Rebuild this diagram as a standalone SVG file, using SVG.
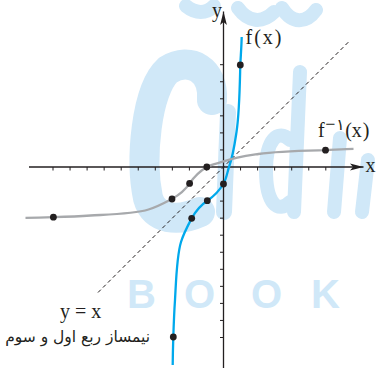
<svg xmlns="http://www.w3.org/2000/svg" width="376" height="368" viewBox="0 0 376 368">
<style>
.wm{fill:none;stroke:#d0e8f8;stroke-linecap:round;stroke-linejoin:round}
.wmt{fill:#d0e8f8;font-family:"Liberation Sans",Arial,sans-serif;font-size:40px;font-weight:bold}
.axis{stroke:#231f20;stroke-width:1.3;fill:none}
.tick{stroke:#231f20;stroke-width:1;fill:none}
.dash{stroke:#231f20;stroke-width:1;stroke-dasharray:4 3;fill:none}
.fcurve{stroke:#00a9ec;stroke-width:2.3;fill:none}
.gcurve{stroke:#a7a9ac;stroke-width:2.3;fill:none}
.dot{fill:#231f20}
.lbl{font-family:"Liberation Serif","Times New Roman",serif;font-size:20px;fill:#231f20}
.fa{font-family:"DejaVu Sans","Noto Sans",sans-serif;font-size:15.5px;fill:#231f20}
</style>
<defs>
<marker id="arr" markerUnits="userSpaceOnUse" viewBox="-14 -4 15 8" refX="0" refY="0" markerWidth="15" markerHeight="8" orient="auto">
<path d="M0,0 L-13.5,-3.4 L-10.5,0 L-13.5,3.4 Z" fill="#231f20"/>
</marker>
</defs>
<g id="watermark">
<path class="wm" stroke-width="30" d="M212,100 C214,70 190,56 168,70 C146,90 140,160 148,198 C154,220 178,222 200,212"/>
<path class="wm" stroke-width="16" d="M228,112 L224,212"/>
<path class="wm" stroke-width="14" d="M290,140 C278,128 266,140 266,170 C266,204 278,214 290,202 M300,72 L294,212"/>
<path class="wm" stroke-width="14" d="M340,138 L334,212 M368,160 L362,212"/>
<path class="wm" stroke-width="14" d="M186,6 C196,14 206,14 214,6 M238,8 C248,22 262,24 274,12 M282,8 C292,24 306,24 316,10"/>
<text class="wmt" x="127" y="308">B</text>
<text class="wmt" x="184" y="308">O</text>
<text class="wmt" x="251" y="308">O</text>
<text class="wmt" x="311" y="308">K</text>
</g>
<g id="axes">
<line class="axis" x1="29" y1="167" x2="363.5" y2="167" marker-end="url(#arr)"/>
<line class="axis" x1="223.5" y1="368" x2="223.5" y2="11.5" marker-end="url(#arr)"/>
<path class="tick" d="M53,167v3.5M70.05,167v3.5M87.1,167v3.5M104.15,167v3.5M121.2,167v3.5M138.25,167v3.5M155.3,167v3.5M172.35,167v3.5M189.4,167v3.5M206.45,167v3.5M240.55,167v3.5M257.6,167v3.5M274.65,167v3.5M291.7,167v3.5M308.75,167v3.5M325.8,167v3.5
M223.5,64.7h-3.5M223.5,81.75h-3.5M223.5,98.8h-3.5M223.5,115.85h-3.5M223.5,132.9h-3.5M223.5,149.95h-3.5M223.5,184.05h-3.5M223.5,201.1h-3.5M223.5,218.15h-3.5M223.5,235.2h-3.5M223.5,252.25h-3.5M223.5,269.3h-3.5M223.5,286.35h-3.5M223.5,303.4h-3.5M223.5,320.45h-3.5M223.5,337.5h-3.5"/>
<text class="lbl" x="212" y="17" font-size="18">y</text>
<text class="lbl" x="365.5" y="172">x</text>
</g>
<g id="connectors">
<line class="dash" x1="98" y1="292.5" x2="349" y2="41.5"/>
</g>
<g id="f">
<path class="fcurve" d="M241.7,37 C241.5,46 240.8,55 240.3,65 C239.8,85 239.5,112 236.5,132 C234.7,143.9 233.3,154.7 229.3,166 C227.2,172.1 226.6,178.4 223.3,184 C219.2,190.9 213.9,196.3 207.3,200.7 C200.7,205.1 195.5,211.3 191.7,218.3 C187.5,226.2 183.6,233.4 181,242 C176.6,256.4 176.1,281 175,300 C174.2,312 173.7,325 173.3,337 C173,347 172.8,356 172.7,365"/>
<circle class="dot" cx="240.3" cy="65" r="3.4"/>
<circle class="dot" cx="223.5" cy="184" r="3.4"/>
<circle class="dot" cx="207.3" cy="200.7" r="3.4"/>
<circle class="dot" cx="191.7" cy="218.3" r="3.4"/>
<circle class="dot" cx="173.3" cy="337" r="3.4"/>
<text class="lbl" x="245.5" y="44" letter-spacing="2">f(x)</text>
</g>
<g id="finv">
<path class="gcurve" d="M353.5,148.8 C344.5,149 335.5,149.7 325.5,150.2 C305.5,150.7 278.5,151 258.5,154 C246.6,155.8 235.8,157.2 224.5,161.2 C218.4,163.3 212.1,163.9 206.5,167.2 C199.6,171.3 194.2,176.6 189.8,183.2 C185.4,189.8 179.2,195 172.2,198.8 C164.3,203 157.1,206.9 148.5,209.5 C134.1,213.9 109.5,214.4 90.5,215.5 C78.5,216.3 65.5,216.8 53.5,217.2 C43.5,217.5 34.5,217.7 25.5,217.8"/>
<circle class="dot" cx="325.5" cy="150.2" r="3.4"/>
<circle class="dot" cx="206.8" cy="167" r="3.4"/>
<circle class="dot" cx="189.6" cy="183.4" r="3.4"/>
<circle class="dot" cx="172" cy="199" r="3.4"/>
<circle class="dot" cx="53.4" cy="217.2" r="3.4"/>
<text class="lbl" x="318" y="137">f<tspan font-size="18" dx="0.5" dy="-7">−</tspan><tspan class="fa" font-size="12" dx="1">۱</tspan><tspan dx="0.5" dy="7" letter-spacing="1">(x)</tspan></text>
</g>
<g id="bisector-label">
<text class="lbl" x="60" y="318">y = x</text>
<text class="fa" x="150" y="342" text-anchor="end">نیمساز ربع اول و سوم</text>
</g>
</svg>
